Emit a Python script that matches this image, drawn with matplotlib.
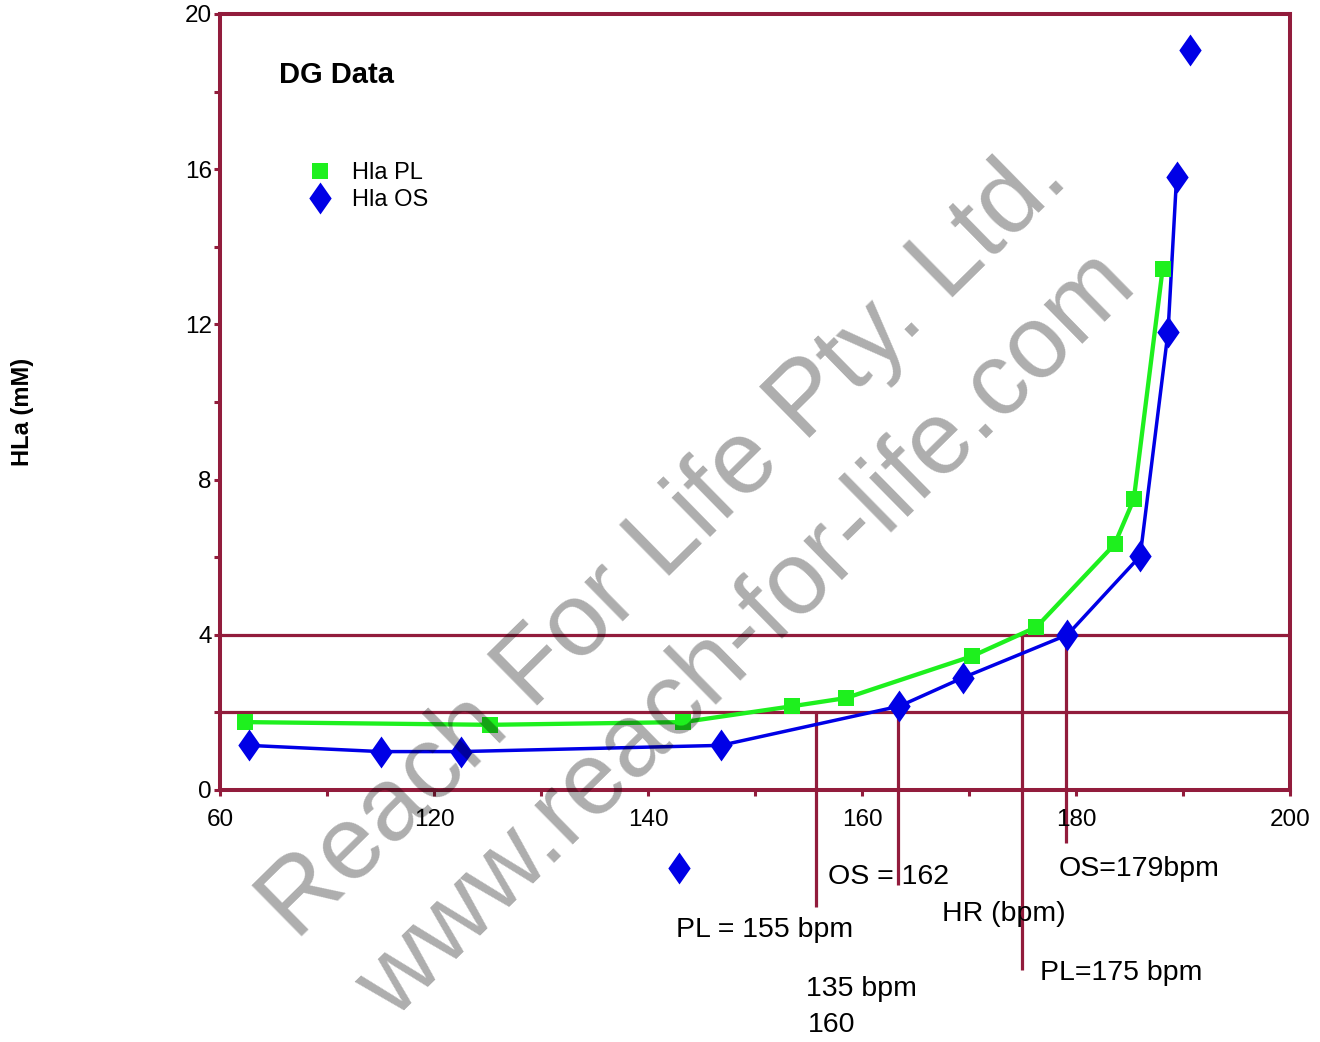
import matplotlib
matplotlib.use('Agg')
import matplotlib.pyplot as plt

plt.rcParams['font.family'] = ['Liberation Sans', 'DejaVu Sans']

# HR axis runs 100..200 internally, the first tick is labelled 60 (axis break in the original)
x_ticks = [100, 120, 140, 160, 180, 200]
x_tick_labels = ['60', '120', '140', '160', '180', '200']
x_minor = [110, 130, 150, 170, 190]
y_ticks = [0, 4, 8, 12, 16, 20]
y_minor = [2, 6, 10, 14, 18]

# Hla PL (green squares)
pl_hr = [102.3, 125.2, 143.3, 153.5, 158.5, 170.3, 176.3, 183.6, 185.4, 188.1]
pl_hla = [1.75, 1.68, 1.75, 2.16, 2.37, 3.45, 4.2, 6.33, 7.49, 13.44]

# Hla OS (blue diamonds) - fitted part
os_hr = [102.7, 115.0, 122.5, 146.8, 163.5, 169.4, 179.2, 186.0, 188.6, 189.4]
os_hla = [1.15, 0.99, 0.99, 1.15, 2.16, 2.89, 4.0, 6.03, 11.8, 15.8]
# OS points not on the fitted line
os_extra_hr = [190.7, 142.9]
os_extra_hla = [19.06, -2.01]

# threshold lines
thresholds = [2, 4]
drop_x = [155.7, 163.4, 175.0, 179.1]
drop_top = [2, 2, 4, 4]
drop_bottom = [-3.02, -2.45, -4.64, -1.37]

notes = ['OS = 162', 'PL = 155 bpm', 'HR (bpm)', 'OS=179bpm', 'PL=175 bpm', '135 bpm', '160']
note_px = [(828, 884), (676, 937), (942, 921), (1059, 876), (1040, 980), (806, 996), (808, 1032)]

red = '#921C3C'
green = '#1EF01E'
blue = '#0000E6'
diamond = [(0, 1), (0.7, 0), (0, -1), (-0.7, 0), (0, 1)]

fig = plt.figure(figsize=(13.2, 10.42), dpi=100)
ax = fig.add_axes([220 / 1320, 1 - 790 / 1042, 1070 / 1320, 776 / 1042])

for t in thresholds:
    ax.axhline(t, color=red, lw=2.3, zorder=1)
ax.vlines(drop_x, drop_bottom, drop_top, colors=red, lw=2.3, zorder=1, clip_on=False)

ax.plot(pl_hr, pl_hla, color=green, lw=3.1, zorder=2)
ax.plot(os_hr, os_hla, color=blue, lw=2.5, zorder=2)
ax.plot(pl_hr, pl_hla, ls='none', marker='s', ms=11, mew=0, color=green, zorder=3, label='Hla PL')
ax.plot(os_hr + os_extra_hr, os_hla + os_extra_hla, ls='none', marker=diamond, ms=23, mew=0,
        color=blue, zorder=3, clip_on=False, label='Hla OS')

ax.set_xlim(100, 200)
ax.set_ylim(0, 20)
ax.set_xticks(x_ticks)
ax.set_xticklabels(x_tick_labels)
ax.set_xticks(x_minor, minor=True)
ax.set_yticks(y_ticks)
ax.set_yticks(y_minor, minor=True)
ax.tick_params(which='both', direction='out', color=red, width=2.2, length=4.5,
               labelsize=17.5, labelcolor='black')
ax.tick_params(axis='x', which='both', pad=9)
ax.tick_params(axis='y', which='both', pad=1.5)
for s in ax.spines.values():
    s.set_color(red)
    s.set_linewidth(2.9)

ax.text(0.0551, 0.922, 'DG Data', transform=ax.transAxes, fontsize=21, fontweight='bold',
        va='center', ha='left')
ax.legend(loc='upper left', bbox_to_anchor=(0.0827, 0.809), frameon=False, fontsize=17,
          handlelength=1.0, handletextpad=0.85, labelspacing=0.2, borderpad=0, borderaxespad=0)

fig.text(22 / 1320, 1 - 412 / 1042, 'HLa (mM)', rotation=90, fontsize=17, fontweight='bold',
         ha='center', va='center')

for txt, (px, py) in zip(notes, note_px):
    fig.text(px / 1320, 1 - py / 1042, txt, fontsize=20.5, ha='left', va='baseline')

# watermark
fig.text(665 / 1320, 1 - 543 / 1042, 'Reach For Life Pty. Ltd.', fontsize=75, rotation=44.5,
         color='black', alpha=0.32, ha='center', va='center', rotation_mode='anchor', zorder=10)
fig.text(748 / 1320, 1 - 636 / 1042, 'www.reach-for-life.com', fontsize=74, rotation=44.5,
         color='black', alpha=0.32, ha='center', va='center', rotation_mode='anchor', zorder=10)

fig.savefig('out.png', dpi=100)
